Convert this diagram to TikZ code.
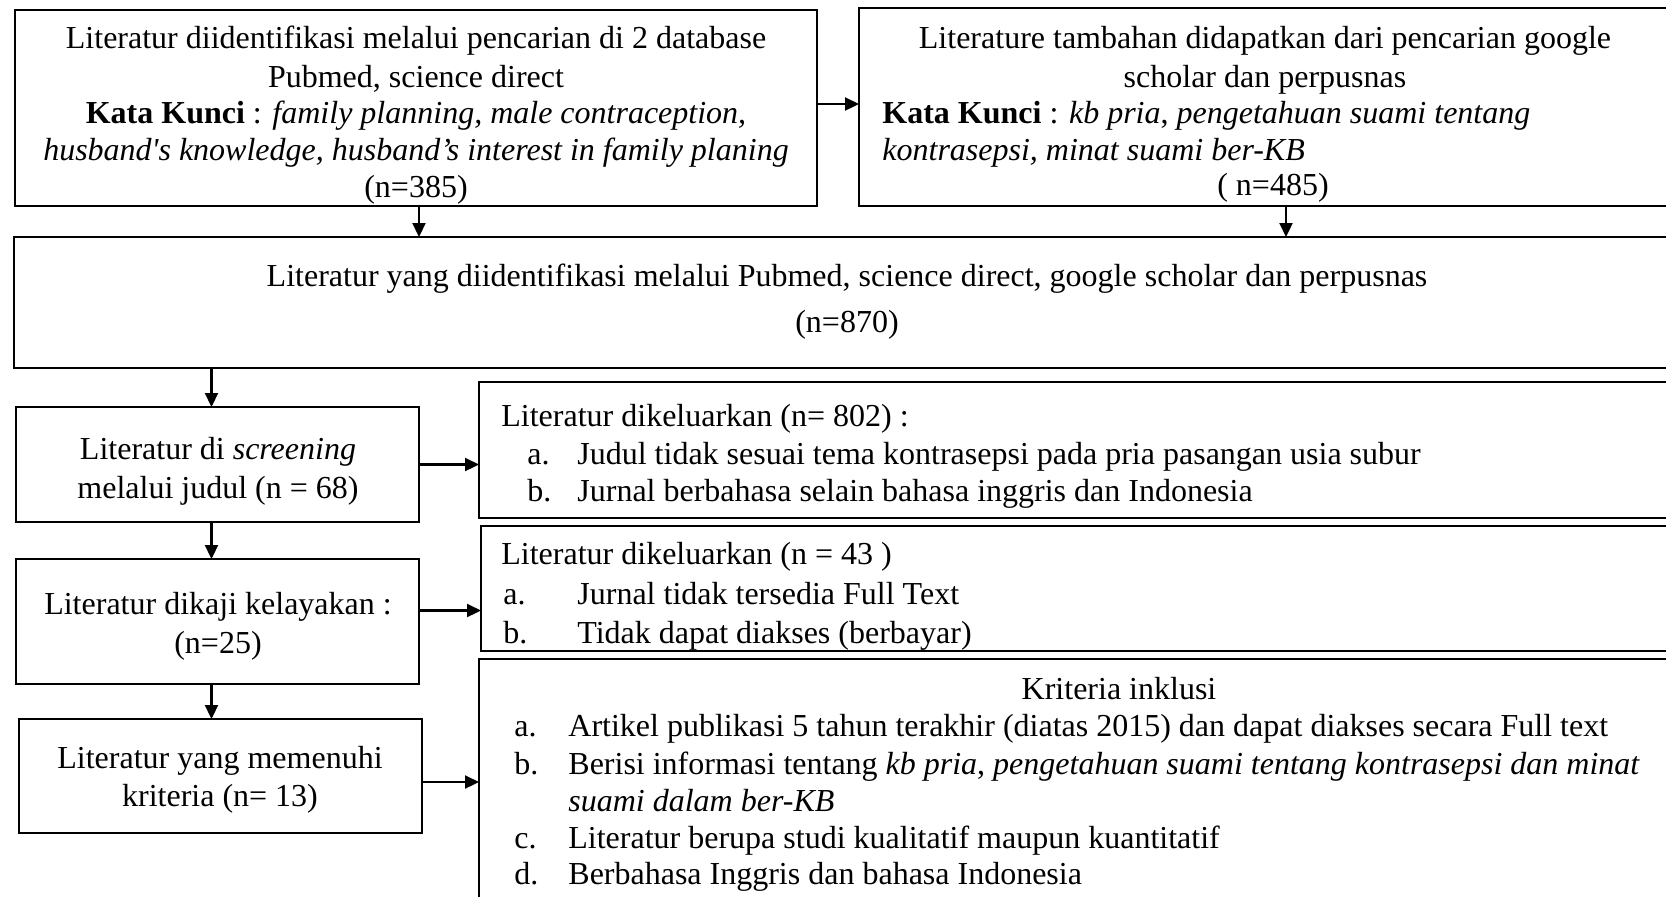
\documentclass[tikz,border=0pt]{standalone}
\usepackage{fontspec}
\setmainfont{Liberation Serif}
\usetikzlibrary{arrows.meta}

\tikzset{
  box/.style={draw, line width=0.55pt, inner sep=0pt, outer sep=0pt, anchor=north west},
  bigbox/.style={box, line width=0.9pt},
  txt/.style={inner sep=0pt, anchor=base},
  ltxt/.style={inner sep=0pt, anchor=base west},
  arr/.style={-{Triangle[length=7pt, width=6.5pt]}, line width=1.1pt},
}

\begin{document}
\begin{tikzpicture}[x=0.5pt, y=-0.5pt, font=\fontsize{16}{18.5}\selectfont]
  \useasboundingbox (0,0) rectangle (1666,896);
  \clip (0,0) rectangle (1666,896);

  % search boxes
  \node[bigbox, minimum width=401pt, minimum height=98pt] (A) at (15,10) {};
  \node[txt] (a1) at (416,48) {Literatur diidentifikasi melalui pencarian di 2 database};
  \node[txt] (a2) at (416,87) {Pubmed, science direct};
  \node[txt] (a3) at (416,123) {\textbf{Kata Kunci} : \textit{family planning, male contraception,}};
  \node[txt] (a4) at (416,160) {\textit{husband\textquotesingle s knowledge, husband’s interest in family planing}};
  \node[txt] (a5) at (416,197) {(n=385)};

  \node[bigbox, minimum width=406pt, minimum height=99pt] (B) at (859,8) {};
  \node[txt] (b1) at (1265,48) {Literature tambahan didapatkan dari pencarian google};
  \node[txt] (b2) at (1265,87) {scholar dan perpusnas};
  \node[ltxt] (b3) at (882,123) {\textbf{Kata Kunci} : \textit{kb pria}, \textit{pengetahuan suami tentang}};
  \node[ltxt] (b4) at (882,160) {\textit{kontrasepsi, minat suami ber-KB}};
  \node[txt] (b5) at (1273,195) {( n=485)};

  % merged
  \node[bigbox, minimum width=833pt, minimum height=65.5pt] (C) at (14,237) {};
  \node[txt] (c1) at (847,286) {Literatur yang diidentifikasi melalui Pubmed, science direct, google scholar dan perpusnas};
  \node[txt] (c2) at (847,332) {(n=870)};

  % screening steps
  \node[box, minimum width=201.5pt, minimum height=57.5pt] (D1) at (16,407) {};
  \node[txt] (d11) at (218,459) {Literatur di \textit{screening}};
  \node[txt] (d12) at (218,498) {melalui judul (n = 68)};

  \node[box, minimum width=201.5pt, minimum height=62.5pt] (D2) at (16,559) {};
  \node[txt] (d21) at (218,614) {Literatur dikaji kelayakan :};
  \node[txt] (d22) at (218,653) {(n=25)};

  \node[box, minimum width=201.5pt, minimum height=57pt] (D3) at (19,719) {};
  \node[txt] (d31) at (220,768) {Literatur yang memenuhi};
  \node[txt] (d32) at (220,806) {kriteria (n= 13)};

  % excluded / criteria
  \node[box, minimum width=600pt, minimum height=68pt] (E1) at (479,382) {};
  \node[ltxt] (e10) at (501,426) {Literatur dikeluarkan (n= 802) :};
  \node[ltxt] (e11) at (527,464) {a.};
  \node[ltxt] (e12) at (577,464) {Judul tidak sesuai tema kontrasepsi pada pria pasangan usia subur};
  \node[ltxt] (e13) at (527,501) {b.};
  \node[ltxt] (e14) at (577,501) {Jurnal berbahasa selain bahasa inggris dan Indonesia};

  \node[box, minimum width=600pt, minimum height=62.5pt] (E2) at (481,526) {};
  \node[ltxt] (e20) at (501,564) {Literatur dikeluarkan (n = 43 )};
  \node[ltxt] (e21) at (503,604) {a.};
  \node[ltxt] (e22) at (577,604) {Jurnal tidak tersedia Full Text};
  \node[ltxt] (e23) at (503,643) {b.};
  \node[ltxt] (e24) at (577,643) {Tidak dapat diakses (berbayar)};

  \node[box, minimum width=600pt, minimum height=130pt] (E3) at (479,659) {};
  \node[txt] (e30) at (1119,699) {Kriteria inklusi};
  \node[ltxt] (e31) at (514,736) {a.};
  \node[ltxt] (e32) at (568,736) {Artikel publikasi 5 tahun terakhir (diatas 2015) dan dapat diakses secara Full text};
  \node[ltxt] (e33) at (514,774) {b.};
  \node[ltxt] (e34) at (568,774) {Berisi informasi tentang \textit{kb pria}, \textit{pengetahuan suami tentang kontrasepsi dan minat}};
  \node[ltxt] (e35) at (568,811) {\textit{suami dalam ber-KB}};
  \node[ltxt] (e36) at (514,848) {c.};
  \node[ltxt] (e37) at (568,848) {Literatur berupa studi kualitatif maupun kuantitatif};
  \node[ltxt] (e38) at (514,884) {d.};
  \node[ltxt] (e39) at (568,884) {Berbahasa Inggris dan bahasa Indonesia};

  % arrows
  \draw[arr] ([yshift=2pt]A.east) -- ([yshift=2pt]A.east -| B.west);
  \draw[arr] ([xshift=1.5pt]A.south) -- ([xshift=1.5pt]A.south |- C.north);
  \draw[arr] ([xshift=10.5pt]B.south) -- ([xshift=10.5pt]B.south |- C.north);
  \draw[arr] ([xshift=-3pt]D1.north |- C.south) -- ([xshift=-3pt]D1.north);
  \draw[arr] ([xshift=-3pt]D1.south) -- ([xshift=-3pt]D1.south |- D2.north);
  \draw[arr] ([xshift=-3pt]D2.south) -- ([xshift=-3pt]D2.south |- D3.north);
  \draw[arr] (D1.east) -- (D1.east -| E1.west);
  \draw[arr] ([yshift=5.5pt]D2.east) -- ([yshift=5.5pt]D2.east -| E2.west);
  \draw[arr] ([yshift=-3pt]D3.east) -- ([yshift=-3pt]D3.east -| E3.west);
\end{tikzpicture}
\end{document}
